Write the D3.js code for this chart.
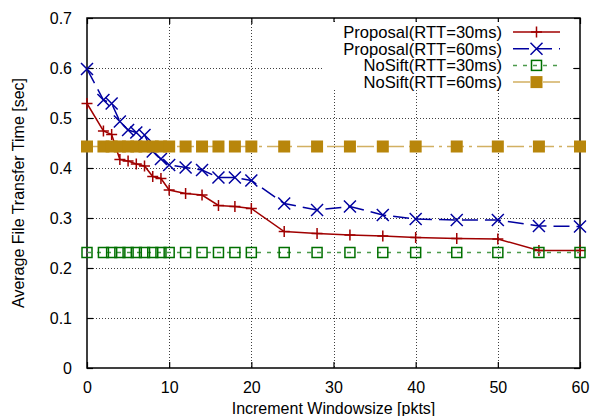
<!DOCTYPE html>
<html>
<head>
<meta charset="utf-8">
<script src="https://cdn.jsdelivr.net/npm/d3@7"></script>
<style>
  body { margin: 0; background: #fff; }
  svg { display: block; font-family: "Liberation Sans", Arial, sans-serif; }
</style>
</head>
<body>
<svg id="chart" width="592" height="416"></svg>
<script>
// window sizes (x) and measured transfer times
var windowSizes = [0, 2, 3, 4, 5, 6, 7, 8, 9, 10, 12, 14, 16, 18, 20, 24, 28, 32, 36, 40, 45, 50, 55, 60];
var proposal30 = [0.529, 0.474, 0.467, 0.417, 0.414, 0.408, 0.404, 0.383, 0.379, 0.356, 0.349, 0.346,
                  0.325, 0.323, 0.319, 0.273, 0.269, 0.266, 0.264, 0.261, 0.259, 0.258, 0.235, 0.235];
var proposal60 = [0.598, 0.536, 0.529, 0.493, 0.476, 0.471, 0.466, 0.433, 0.418, 0.406, 0.401, 0.396,
                  0.381, 0.381, 0.375, 0.329, 0.316, 0.323, 0.306, 0.298, 0.296, 0.296, 0.284, 0.283];
var nosift30 = [0.231, 0.231, 0.231, 0.231, 0.231, 0.231, 0.231, 0.231, 0.231, 0.231, 0.231, 0.231,
                0.231, 0.231, 0.231, 0.231, 0.231, 0.231, 0.231, 0.231, 0.231, 0.231, 0.231, 0.231];
var nosift60 = [0.443, 0.443, 0.443, 0.443, 0.443, 0.443, 0.443, 0.443, 0.443, 0.443, 0.443, 0.443,
                0.443, 0.443, 0.443, 0.443, 0.443, 0.443, 0.443, 0.443, 0.443, 0.443, 0.443, 0.443];

var xTicks = [0, 10, 20, 30, 40, 50, 60];
var yTicks = [0, 0.1, 0.2, 0.3, 0.4, 0.5, 0.6, 0.7];
var seriesNames = ["Proposal(RTT=30ms)", "Proposal(RTT=60ms)", "NoSift(RTT=30ms)", "NoSift(RTT=60ms)"];

var svg = d3.select("#chart");
var plotL = 87, plotR = 580, plotT = 18, plotB = 368;

var x = d3.scaleLinear().domain([0, 60]).range([plotL, plotR]);
var y = d3.scaleLinear().domain([0, 0.7]).range([plotB, plotT]);

// grid
var grid = svg.append("g").attr("stroke", "#000").attr("stroke-width", 1)
    .attr("stroke-dasharray", "1,2").attr("opacity", 0.75);
grid.selectAll("line.gx").data(xTicks.slice(1, -1)).enter().append("line")
    .attr("x1", d => Math.round(x(d)) + 0.5).attr("x2", d => Math.round(x(d)) + 0.5)
    .attr("y1", plotT).attr("y2", plotB);
grid.selectAll("line.gy").data(yTicks.slice(1, -1)).enter().append("line")
    .attr("y1", d => Math.round(y(d)) + 0.5).attr("y2", d => Math.round(y(d)) + 0.5)
    .attr("x1", plotL).attr("x2", plotR);

// axes (ticks inside, mirrored)
var fmtY = d => d === 0 ? "0" : d3.format(".1f")(d);
function styleAxis(g) {
  g.select(".domain").remove();
  g.selectAll(".tick line").attr("stroke", "#000").attr("stroke-width", 1.2);
  g.selectAll(".tick text").attr("font-size", "16px").attr("fill", "#000")
   .attr("font-family", "Liberation Sans, Arial, sans-serif");
}
svg.append("g").attr("transform", "translate(0," + plotB + ")")
  .call(d3.axisBottom(x).tickValues(xTicks).tickSizeInner(-6).tickSizeOuter(0).tickPadding(14))
  .call(styleAxis);
svg.append("g").attr("transform", "translate(0," + plotT + ")")
  .call(d3.axisTop(x).tickValues(xTicks).tickSizeInner(-6).tickSizeOuter(0).tickFormat(""))
  .call(styleAxis);
svg.append("g").attr("transform", "translate(" + plotL + ",0)")
  .call(d3.axisLeft(y).tickValues(yTicks).tickSizeInner(-6).tickSizeOuter(0).tickPadding(15).tickFormat(fmtY))
  .call(styleAxis);
svg.append("g").attr("transform", "translate(" + plotR + ",0)")
  .call(d3.axisRight(y).tickValues(yTicks).tickSizeInner(-6).tickSizeOuter(0).tickFormat(""))
  .call(styleAxis);

// border
svg.append("rect").attr("x", plotL).attr("y", plotT)
  .attr("width", plotR - plotL).attr("height", plotB - plotT)
  .attr("fill", "none").attr("stroke", "#000").attr("stroke-width", 1.5);

// axis titles
svg.append("text").attr("x", (plotL + plotR) / 2).attr("y", 414)
  .attr("text-anchor", "middle").attr("font-size", "16px").text("Increment Windowsize [pkts]");
svg.append("text").attr("transform", "translate(24," + ((plotT + plotB) / 2) + ") rotate(-90)")
  .attr("text-anchor", "middle").attr("font-size", "16px").text("Average File Transfer Time [sec]");

// series styles
var styles = [
  { values: proposal30, color: "#a00000", lineColor: "#a00000", dash: null, marker: "plus" },
  { values: proposal60, color: "#0000a0", lineColor: "#0000a0", dash: "16,7", marker: "cross" },
  { values: nosift30, color: "#007000", lineColor: "#4c9a4c", dash: "4,6", marker: "square" },
  { values: nosift60, color: "#b8860b", lineColor: "#d2b062", dash: "17,5,3,5", marker: "fsquare" }
];

function drawMarker(g, type, px, py, color) {
  if (type === "plus") {
    g.append("path").attr("d", "M" + (px - 5.5) + "," + py + "h11M" + px + "," + (py - 5.5) + "v11")
      .attr("stroke", color).attr("stroke-width", 1.5).attr("fill", "none");
  } else if (type === "cross") {
    g.append("path").attr("d", "M" + (px - 6) + "," + (py - 6) + "l12,12M" + (px - 6) + "," + (py + 6) + "l12,-12")
      .attr("stroke", color).attr("stroke-width", 1.5).attr("fill", "none");
  } else if (type === "square") {
    g.append("rect").attr("x", px - 5).attr("y", py - 5).attr("width", 10).attr("height", 10)
      .attr("stroke", color).attr("stroke-width", 1.5).attr("fill", "none");
  } else {
    g.append("rect").attr("x", px - 6).attr("y", py - 6).attr("width", 12).attr("height", 12)
      .attr("fill", color);
  }
}

var line = d3.line().x(d => x(d[0])).y(d => y(d[1]));

styles.forEach(function(s) {
  var pts = windowSizes.map((w, i) => [w, s.values[i]]);
  var g = svg.append("g");
  g.append("path").attr("d", line(pts)).attr("fill", "none")
    .attr("stroke", s.lineColor).attr("stroke-width", 1.5)
    .attr("stroke-dasharray", s.dash);
  pts.forEach(p => drawMarker(g, s.marker, x(p[0]), y(p[1]), s.color));
});

// legend
var legend = svg.append("g");
legend.append("rect").attr("x", 323).attr("y", 22).attr("width", 248).attr("height", 68).attr("fill", "#fff");
seriesNames.forEach(function(name, i) {
  var ly = 32 + i * 16.7;
  var s = styles[i];
  legend.append("text").attr("x", 502).attr("y", ly + 5.8).attr("text-anchor", "end")
    .attr("font-size", "16.6px").text(name);
  legend.append("line").attr("x1", 513).attr("x2", 560).attr("y1", ly).attr("y2", ly)
    .attr("stroke", s.lineColor).attr("stroke-width", 1.5).attr("stroke-dasharray", s.dash);
  drawMarker(legend, s.marker, 536.5, ly, s.color);
});
</script>
</body>
</html>
